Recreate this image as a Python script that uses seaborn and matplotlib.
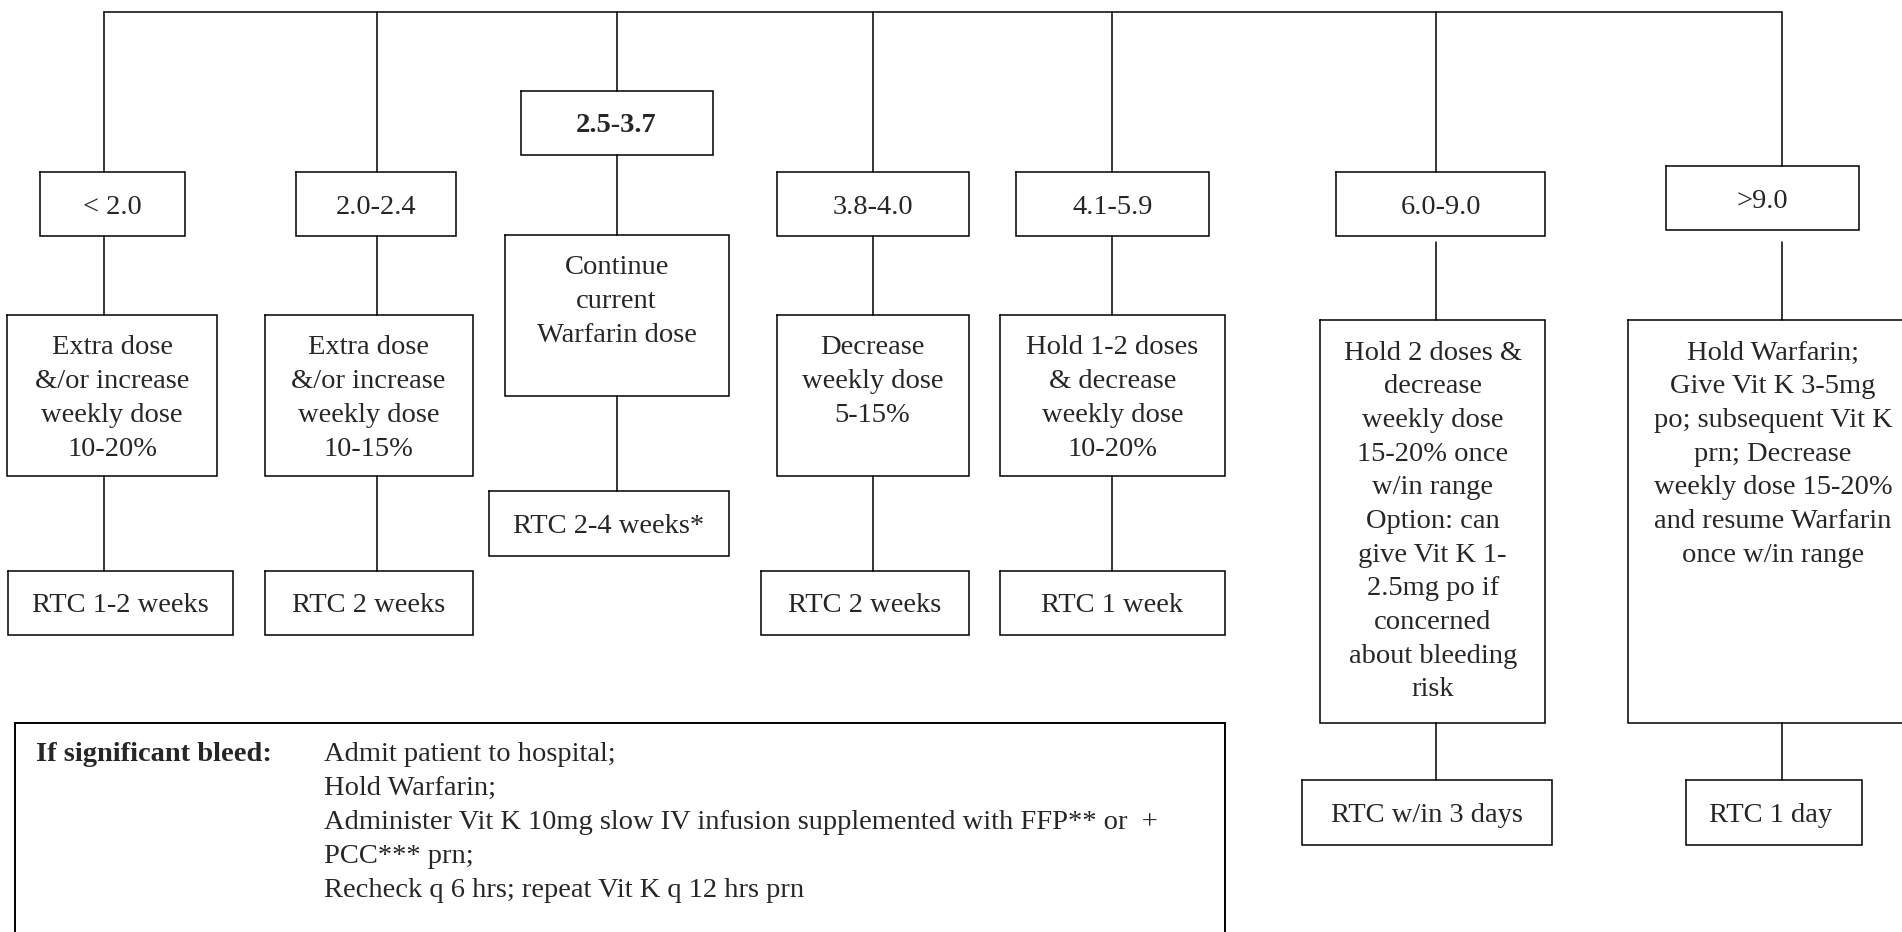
import matplotlib
matplotlib.use("Agg")
import matplotlib.pyplot as plt
import seaborn as sns

# --- content ---
range_labels = ["< 2.0", "2.0-2.4", "2.5-3.7", "3.8-4.0", "4.1-5.9", "6.0-9.0", ">9.0"]
range_bold = [False, False, True, False, False, False, False]
action_labels = [
    ["Extra dose", "&/or increase", "weekly dose", "10-20%"],
    ["Extra dose", "&/or increase", "weekly dose", "10-15%"],
    ["Continue", "current", "Warfarin dose"],
    ["Decrease", "weekly dose", "5-15%"],
    ["Hold 1-2 doses", "& decrease", "weekly dose", "10-20%"],
    ["Hold 2 doses &", "decrease", "weekly dose", "15-20% once", "w/in range",
     "Option: can", "give Vit K 1-", "2.5mg po if", "concerned",
     "about bleeding", "risk"],
    ["Hold Warfarin;", "Give Vit K 3-5mg", "po; subsequent Vit K", "prn; Decrease",
     "weekly dose 15-20%", "and resume Warfarin", "once w/in range"],
]
rtc_labels = ["RTC 1-2 weeks", "RTC 2 weeks", "RTC 2-4 weeks*", "RTC 2 weeks",
              "RTC 1 week", "RTC w/in 3 days", "RTC 1 day "]
bleed_title = "If significant bleed:"
bleed_lines = [
    "Admit patient to hospital;",
    "Hold Warfarin;",
    "Administer Vit K 10mg slow IV infusion supplemented with FFP** or  +",
    "PCC*** prn;",
    "Recheck q 6 hrs; repeat Vit K q 12 hrs prn",
]

# --- layout (pixels, y downwards) ---
col_x = [104, 376.6, 616.6, 872.6, 1112.4, 1436.3, 1781.7]
top_y = 12
range_boxes = [(40.4, 185, 172, 236), (296, 456, 172, 236), (520.5, 712.7, 91, 155),
               (776.5, 968.8, 172, 236), (1016, 1208.7, 172, 236),
               (1336.3, 1545, 172, 236), (1666.4, 1859, 166, 230)]
action_boxes = [(7.3, 216.8, 315, 476), (264.5, 472.7, 315, 476), (504.5, 728.7, 235, 396),
                (776.5, 968.8, 315, 476), (1000, 1224.7, 315, 476),
                (1320.4, 1545, 320, 723), (1628, 1920, 320, 723)]
rtc_boxes = [(8, 233, 571, 635), (264.5, 472.7, 571, 635), (488.7, 728.7, 491, 556),
             (760.5, 968.5, 571, 635), (1000, 1225, 571, 635),
             (1302, 1552, 780, 845), (1686, 1862, 780, 845)]
# connectors between range box bottom and action box top start lower for the last two
link_gap = [0, 0, 0, 0, 0, 6, 12]

sns.set_theme(style="white")
plt.rcParams['font.family'] = ['Liberation Serif', 'DejaVu Serif']

W, H = 1902, 932
fig = plt.figure(figsize=(W / 100, H / 100), dpi=100)
ax = fig.add_axes([0, 0, 1, 1])
ax.set_xlim(0, W)
ax.set_ylim(H, 0)
ax.axis('off')

lw = 1.1
fs = 20.5
dy = 3  # nudge text down to match baseline placement


def box(b):
    x0, x1, y0, y1 = b
    ax.plot([x0, x1, x1, x0, x0], [y0, y0, y1, y1, y0], color='black', lw=lw,
            solid_joinstyle='miter')


def vline(x, y0, y1):
    ax.plot([x, x], [y0, y1], color='black', lw=lw)


# top bus
ax.plot([col_x[0], col_x[-1]], [top_y, top_y], color='black', lw=lw)

for i, cx in enumerate(col_x):
    rb, ab, tb = range_boxes[i], action_boxes[i], rtc_boxes[i]
    vline(cx, top_y, rb[2])
    vline(cx, rb[3] + link_gap[i], ab[2])
    vline(cx, ab[3], tb[2])
    box(rb)
    box(ab)
    box(tb)
    ax.text((rb[0] + rb[1]) / 2, (rb[2] + rb[3]) / 2 + dy, range_labels[i], ha='center',
            va='center', fontsize=fs, fontweight='bold' if range_bold[i] else 'normal')
    acx = (ab[0] + ab[1]) / 2
    if i == 6:
        acx = 1773
    for j, line in enumerate(action_labels[i]):
        ax.text(acx, ab[2] + 30 + j * 33.7 + dy, line, ha='center', va='center', fontsize=fs)
    ax.text((tb[0] + tb[1]) / 2, (tb[2] + tb[3]) / 2 + dy, rtc_labels[i], ha='center',
            va='center', fontsize=fs)

# bleed box (open at bottom edge)
bx0, bx1, by0 = 15.3, 1225.3, 723
ax.plot([bx0, bx0, bx1, bx1], [H + 5, by0, by0, H + 5], color='black', lw=1.4,
        solid_joinstyle='miter')
ax.text(36, 751.7 + dy, bleed_title, ha='left', va='center', fontsize=fs, fontweight='bold')
for j, line in enumerate(bleed_lines):
    ax.text(324, 751.7 + j * 33.9 + dy, line, ha='left', va='center', fontsize=fs)

fig.savefig('out.png', dpi=100, facecolor='white')
